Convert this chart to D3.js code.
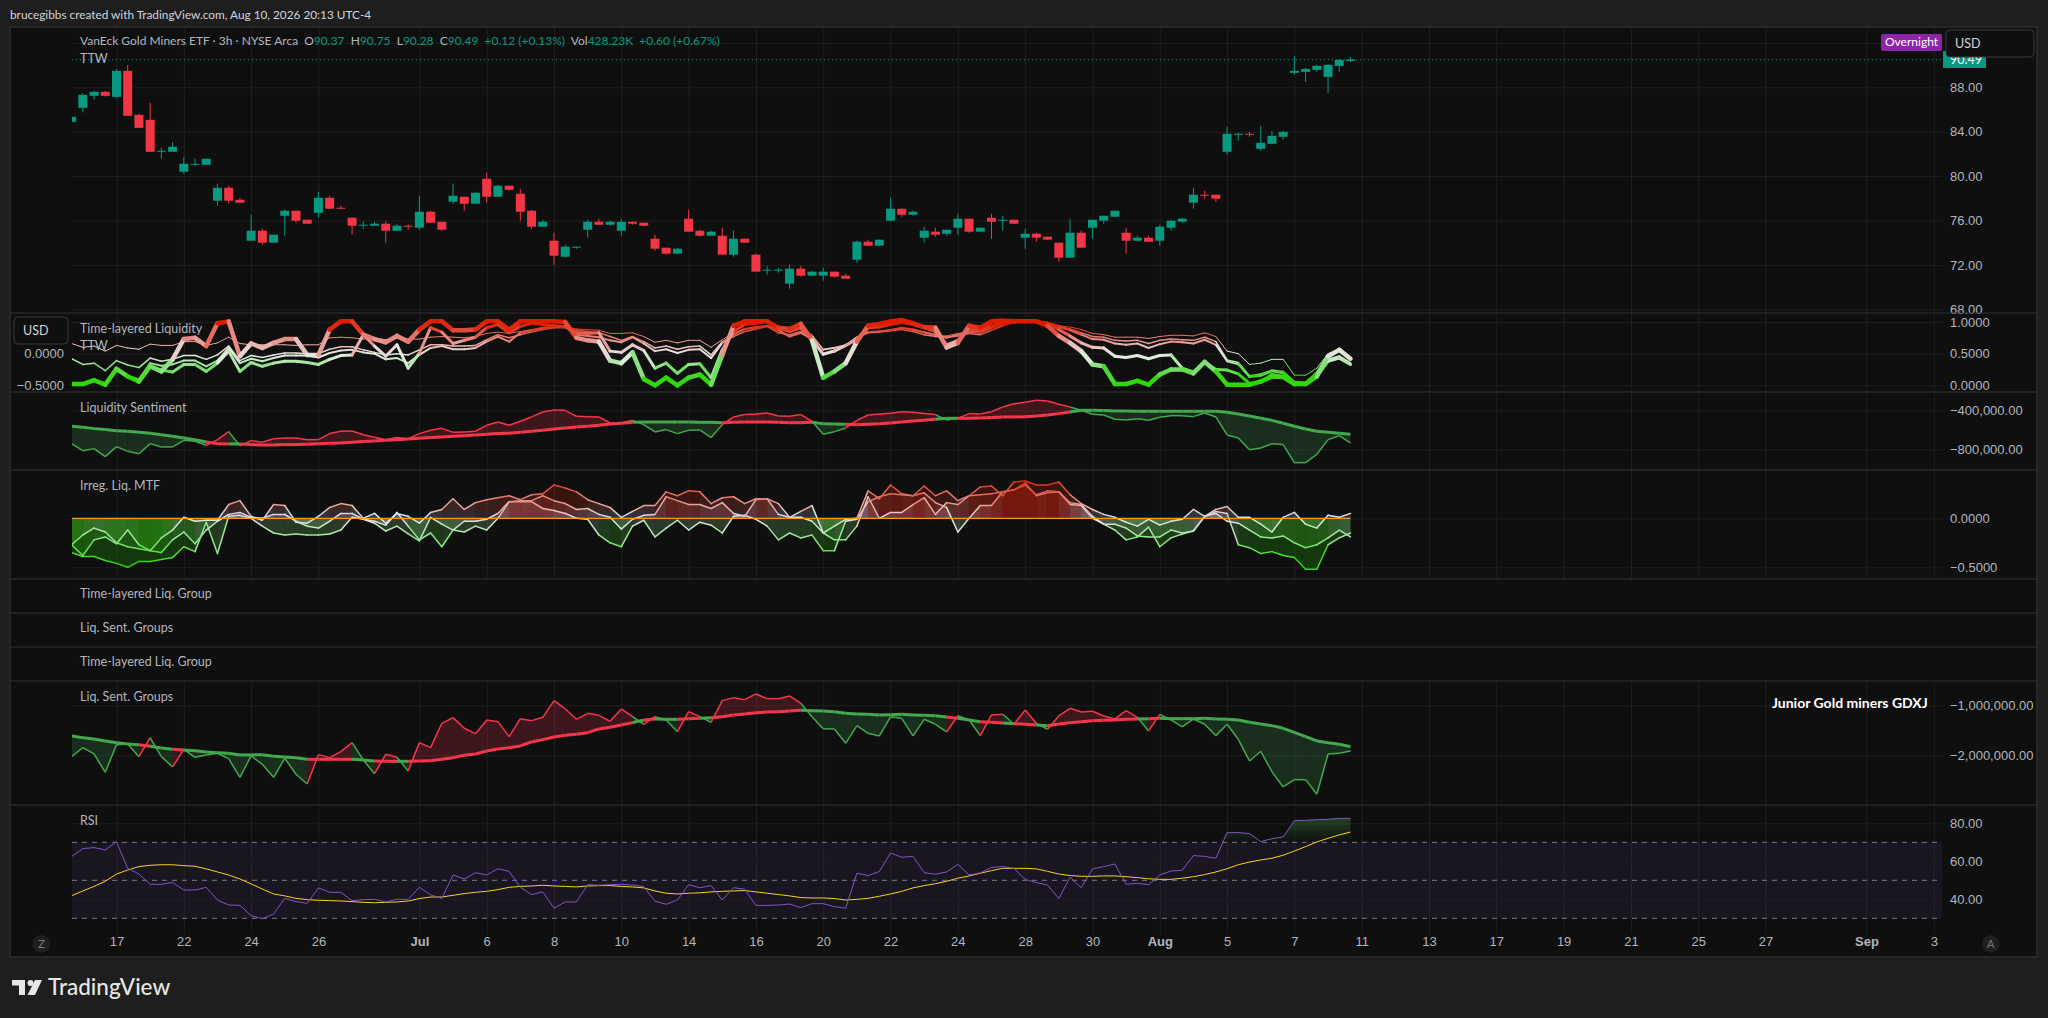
<!DOCTYPE html>
<html>
<head>
<meta charset="utf-8">
<script src="https://cdn.jsdelivr.net/npm/d3@7"></script>
<style>
  html, body { margin: 0; padding: 0; background: #1e1e1e; overflow: hidden; }
  svg { display: block; font-family: "Lato", sans-serif; }
  text { font-size: 12.5px; fill: #b2b5be; }
  .tick line { stroke: #1f1f1f; }
  .domain { display: none; }
  .tick text { font-size: 13px; fill: #b2b5be; }
  .bold { font-weight: 700; fill: #d1d4dc; }
</style>
</head>
<body>
<svg id="chart" width="2048" height="1018"></svg>
<script>
// candles, 3h bars
var opens = [84.89,86.15,87.23,87.59,87.14,89.48,85.52,85.07,82.22,82.19,
  80.39,81.05,81.02,77.78,78.95,77.87,74.18,75.08,74.00,76.43,
  76.88,76.07,76.70,78.05,77.15,76.25,75.56,75.53,75.71,75.08,
  75.53,75.35,76.79,75.89,77.69,78.14,77.51,79.76,78.14,79.13,
  78.41,76.88,75.44,74.18,72.74,73.55,75.17,75.89,75.62,75.08,
  75.89,75.80,74.36,73.55,73.01,76.16,75.08,74.63,74.63,72.92,
  74.36,72.92,71.48,71.48,70.31,71.66,71.03,71.03,71.39,71.03,
  72.47,74.09,73.73,75.98,77.06,76.52,74.45,74.99,74.81,75.35,
  76.16,74.99,76.25,75.98,76.07,74.45,74.81,74.54,74.00,72.65,
  74.90,75.35,75.98,76.34,74.90,74.18,74.45,74.18,75.35,75.89,
  77.60,78.32,78.32,82.19,83.75,83.81,82.46,82.91,83.54,89.30,
  89.39,89.57,88.94,89.93,90.37];
var closes = [85.34,87.32,87.59,87.23,89.48,85.43,84.35,82.19,82.28,82.64,
  81.11,81.11,81.56,78.95,77.78,77.60,75.08,74.00,74.72,76.88,
  75.98,75.71,78.05,77.06,77.06,75.53,75.62,75.71,75.08,75.53,
  75.47,76.79,75.80,75.17,78.23,77.51,78.50,78.14,79.13,78.77,
  76.79,75.44,75.89,72.83,73.64,73.64,75.89,75.62,75.89,75.89,
  75.71,75.53,73.46,73.01,73.46,74.99,74.63,74.99,72.92,74.36,
  74.00,71.39,71.57,71.57,71.66,71.03,71.39,71.39,70.94,70.76,
  74.09,73.73,74.27,77.06,76.52,76.79,75.08,74.72,75.17,76.16,
  74.99,75.35,75.89,76.07,75.71,74.81,74.45,74.27,72.65,74.90,
  73.55,76.07,76.43,76.88,74.18,74.45,74.09,75.44,75.98,76.16,
  78.32,78.26,77.96,83.81,83.81,83.75,83.00,83.63,83.99,89.48,
  89.66,89.93,90.02,90.47,90.49];
var highs = [85.34,87.47,87.71,87.68,89.63,90.02,85.61,86.60,82.55,83.06,
  81.74,81.56,81.56,79.31,79.13,78.05,76.52,75.26,74.72,76.97,
  76.88,76.07,78.59,78.23,77.33,76.25,75.89,75.89,75.98,75.71,
  75.62,78.23,76.88,75.89,79.31,78.14,78.59,80.30,79.22,79.13,
  78.86,76.97,76.07,74.90,73.82,73.64,76.07,76.16,75.98,76.16,
  75.89,75.80,74.72,73.55,73.55,76.97,75.17,75.08,75.35,75.08,
  74.36,73.01,71.93,71.75,72.02,71.93,71.48,71.75,71.39,71.21,
  74.18,74.27,74.27,78.05,77.06,76.88,75.44,75.35,75.17,76.61,
  76.16,75.35,76.61,76.43,76.07,75.26,74.90,74.54,74.00,76.16,
  75.08,76.07,76.43,76.88,75.35,74.63,74.63,75.62,76.07,76.25,
  78.95,78.68,78.32,84.44,83.90,83.99,84.53,84.08,84.08,90.83,
  89.75,90.02,90.11,90.56,90.75];
var lows = [84.80,85.73,86.90,87.17,87.08,85.43,84.35,82.19,81.56,82.19,
  80.21,80.90,81.02,77.33,77.51,77.60,74.18,73.82,74.00,74.63,
  75.80,75.71,76.25,77.06,77.06,74.72,75.26,75.53,74.00,75.08,
  75.17,75.17,75.80,75.08,77.51,76.88,77.51,77.60,78.14,78.68,
  75.98,75.26,75.44,72.02,72.65,73.46,74.45,75.62,75.53,74.63,
  75.62,75.44,73.28,72.92,73.01,74.99,74.54,74.63,72.92,72.74,
  74.00,71.39,71.12,71.30,69.86,70.94,71.03,70.58,70.85,70.76,
  72.20,73.73,73.73,75.98,76.34,76.43,74.00,74.54,74.63,74.72,
  74.90,74.99,74.36,75.08,75.71,73.46,74.09,74.27,72.29,72.65,
  73.55,74.36,75.71,76.34,73.01,74.09,74.09,73.73,75.08,75.80,
  77.06,77.96,77.69,81.92,83.18,83.54,82.28,82.91,83.27,89.12,
  88.49,89.39,87.50,89.39,90.28];

// time-layered liquidity, thinnest to thickest
var ttl1 = [.66,.60,.62,.54,.63,.59,.57,.65,.63,.63,.69,.69,.63,.67,.76,.66,.64,.64,.64,.64,
  .63,.64,.64,.75,.76,.75,.73,.75,.72,.75,.73,.73,.76,.77,.76,.75,.77,.82,.84,.82,
  .85,.88,.91,.94,.93,.89,.88,.87,.82,.82,.83,.77,.68,.71,.67,.71,.71,.60,.72,.83,
  .88,.91,.94,.88,.84,.89,.80,.57,.60,.64,.77,.83,.85,.88,.91,.87,.83,.78,.78,.82,
  .84,.82,.91,.96,1.00,1.00,1.00,1.00,.94,.92,.88,.82,.80,.76,.76,.76,.74,.77,.79,.79,
  .78,.83,.77,.54,.50,.33,.35,.41,.41,.16,.16,.27,.50,.57,.44];
var ttl2 = [.42,.33,.35,.23,.39,.32,.28,.43,.38,.41,.47,.47,.41,.48,.62,.39,.47,.44,.48,.51,
  .51,.50,.50,.57,.61,.61,.56,.52,.48,.50,.48,.56,.64,.64,.62,.62,.63,.72,.80,.75,
  .80,.84,.88,.91,.91,.87,.85,.83,.77,.71,.77,.69,.59,.62,.57,.61,.62,.48,.69,.77,
  .85,.89,.93,.83,.80,.85,.77,.56,.59,.63,.76,.83,.84,.86,.88,.85,.80,.77,.76,.78,
  .82,.80,.87,.94,.99,1.00,1.00,.99,.94,.89,.83,.77,.76,.71,.70,.71,.66,.71,.73,.72,
  .71,.76,.69,.40,.36,.15,.18,.24,.22,.06,.05,.21,.48,.56,.42];
var ttl3 = [.02,.02,.08,.01,.26,.14,.09,.35,.31,.33,.39,.39,.30,.39,.59,.35,.42,.38,.43,.47,
  .47,.47,.44,.51,.55,.56,.52,.50,.41,.43,.35,.48,.59,.62,.57,.57,.59,.69,.77,.69,
  .83,.87,.91,.92,.92,.80,.78,.76,.71,.68,.76,.66,.54,.57,.51,.56,.57,.43,.67,.80,
  .89,.92,.94,.87,.77,.83,.73,.50,.55,.62,.75,.84,.85,.87,.91,.88,.84,.80,.75,.80,
  .85,.85,.91,.97,1.00,1.00,1.00,.98,.92,.87,.80,.73,.72,.66,.64,.66,.59,.65,.69,.68,
  .66,.72,.64,.38,.33,.13,.15,.22,.19,.02,.02,.14,.41,.46,.35];
var ttl4 = [.02,.02,.08,.01,.26,.14,.09,.30,.24,.21,.33,.33,.22,.35,.54,.22,.36,.30,.35,.38,
  .38,.36,.33,.41,.47,.48,.80,.62,.46,.64,.27,.51,.91,.84,.66,.71,.76,.91,.96,.83,
  .93,.98,.96,.94,.93,.83,.82,.83,.54,.52,.64,.55,.27,.35,.19,.33,.34,.12,.56,.85,
  .96,.98,1.01,.91,.85,.91,.72,.49,.54,.63,.72,.91,.92,.96,.99,.96,.91,.85,.64,.71,
  .89,.87,.94,.99,1.01,1.01,1.01,.98,.88,.78,.67,.60,.59,.46,.44,.47,.42,.47,.48,.27,
  .21,.37,.25,.24,.18,.03,.05,.17,.14,.02,.02,.14,.38,.43,.33];
var ttl5 = [.02,.02,.08,.01,.26,.14,.06,.30,.22,.41,.73,.75,.62,.98,1.01,.46,.66,.59,.67,.73,
  .73,.48,.48,.88,1.01,1.01,.80,.73,.68,.78,.69,.88,1.01,1.01,.87,.87,.88,1.01,1.01,.88,
  1.01,1.01,1.01,1.01,1.00,.75,.71,.69,.39,.35,.52,.10,.00,.12,.00,.12,.17,.01,.48,.94,
  1.01,1.01,1.01,.91,.89,.97,.71,.12,.22,.35,.69,.94,.97,1.01,1.03,.98,.92,.91,.60,.67,
  .94,.91,1.01,1.02,1.01,1.01,1.01,.94,.78,.67,.54,.33,.30,.02,.02,.07,.01,.17,.25,.25,
  .19,.37,.22,.01,.01,.01,.06,.14,.13,.02,.02,.14,.46,.56,.42];
var ttlWidths = [1, 1.5, 2, 3, 4.5];

// liquidity sentiment, thousands
var sentFast = [-742,-814,-793,-875,-773,-821,-845,-742,-776,-776,-708,-718,-759,-701,-619,-763,-711,-728,-691,-684,
  -684,-701,-701,-639,-615,-612,-650,-677,-701,-680,-691,-639,-605,-585,-626,-622,-615,-554,-520,-554,
  -513,-468,-417,-397,-400,-462,-465,-468,-530,-530,-503,-547,-622,-598,-639,-605,-602,-680,-547,-468,
  -444,-438,-427,-458,-462,-444,-513,-646,-619,-581,-503,-448,-438,-431,-414,-421,-434,-444,-499,-482,
  -434,-438,-414,-366,-332,-318,-297,-304,-338,-366,-400,-441,-448,-492,-499,-486,-503,-472,-455,-455,
  -465,-427,-468,-653,-684,-804,-786,-742,-752,-937,-937,-851,-701,-660,-735];
var sentSlow = [-564,-574,-588,-598,-609,-615,-626,-636,-650,-667,-684,-701,-725,-742,-745,-745,-752,-756,-756,-752,
  -752,-749,-742,-739,-735,-728,-721,-715,-708,-701,-694,-687,-680,-674,-667,-660,-653,-646,-639,-636,
  -626,-615,-605,-592,-581,-571,-564,-554,-540,-533,-523,-520,-520,-520,-520,-520,-523,-523,-527,-523,
  -520,-520,-520,-523,-527,-527,-523,-537,-540,-544,-547,-544,-537,-530,-520,-509,-503,-492,-482,-482,
  -482,-479,-475,-468,-468,-465,-458,-448,-434,-417,-400,-400,-403,-407,-407,-410,-410,-410,-410,-410,
  -410,-410,-410,-421,-438,-458,-482,-503,-533,-564,-592,-615,-626,-636,-646];

// irregular liquidity MTF
var irreg1 = [-.27,-.17,-.10,-.14,-.25,-.29,-.31,-.33,-.20,-.12,.01,-.03,-.02,-.02,.14,.18,.02,-.02,.14,.13,
  -.04,-.05,.02,.11,.15,.13,.00,.05,-.05,.05,.02,-.05,.06,.09,.20,.09,.16,.19,.21,.23,
  .19,.24,.25,.34,.31,.27,.19,.15,.11,.01,.07,.13,.13,.27,.23,.28,.27,.15,.21,.22,
  .15,.20,.20,.15,.01,.07,.13,-.15,-.08,-.01,.00,.28,.20,.34,.25,.23,.33,.23,.28,.18,
  .23,.32,.33,.23,.37,.38,.34,.34,.37,.24,.15,.09,.04,.01,-.04,-.08,-.01,-.07,-.03,-.01,
  .09,.02,.09,.12,.01,.01,-.06,-.14,.01,.06,-.06,-.10,.03,.01,.05];
var irreg2 = [-.27,-.38,-.22,-.19,-.26,-.12,-.27,-.33,-.35,-.22,-.14,-.26,-.12,-.03,.04,.06,.01,.00,.04,.04,
  -.03,-.08,-.10,-.03,.05,.05,-.01,-.03,-.07,.06,-.08,-.22,-.15,-.29,-.12,-.03,-.03,-.01,.05,.17,
  .18,.18,.23,.18,.15,.09,.10,.04,.01,-.11,-.01,.03,.04,.22,.18,.14,.14,.10,.16,.05,
  .02,.19,.20,.04,.01,.01,-.03,-.15,-.22,-.22,-.08,.22,.00,.06,.06,.14,.21,.04,.16,.14,
  .23,.24,.25,.27,.29,.34,.24,.28,.27,.16,.14,.02,-.06,-.06,-.10,-.18,-.19,-.19,-.12,-.15,
  -.13,.02,.05,-.03,-.05,-.12,-.19,-.20,-.18,-.25,-.30,-.27,-.20,-.12,-.19];
var irreg3 = [-.35,-.39,-.39,-.43,-.46,-.50,-.44,-.44,-.42,-.40,-.29,-.34,-.04,-.36,.02,.03,.00,-.08,-.15,-.17,
  -.16,-.17,-.17,-.16,-.12,.01,-.01,-.05,-.13,-.08,-.16,-.23,.01,-.06,-.12,-.14,-.08,-.12,.00,.17,
  .17,.17,.10,.08,.05,.00,-.01,-.17,-.25,-.29,-.08,-.02,-.19,-.10,-.02,-.12,-.04,-.07,-.15,.02,
  .03,-.01,-.08,-.22,-.15,-.20,-.17,-.33,-.33,-.03,-.01,.17,.22,.25,.24,.23,.26,.16,.11,-.14,
  .00,.13,.13,.27,.29,.36,.23,.26,.27,.14,.13,.00,-.06,-.12,-.22,-.19,-.09,-.29,-.20,-.16,
  -.13,.02,.07,.05,-.27,-.30,-.36,-.34,-.38,-.40,-.52,-.52,-.27,-.20,-.15];

// liq. sent. groups, thousands
var groupFast = [-2027,-1847,-1973,-2340,-1787,-1773,-2027,-1647,-2027,-2233,-1880,-2040,-1993,-1960,-2067,-2440,-2013,-2180,-2440,-2060,
  -2380,-2573,-1987,-2047,-1927,-1747,-2093,-2367,-1980,-2040,-2313,-1747,-1847,-1360,-1247,-1460,-1567,-1293,-1327,-1627,
  -1267,-1307,-1240,-907,-1073,-1280,-1160,-1200,-1320,-1073,-1227,-1380,-1227,-1293,-1527,-1127,-1227,-1340,-907,-847,
  -887,-773,-867,-867,-813,-960,-1227,-1467,-1473,-1760,-1407,-1560,-1613,-1233,-1260,-1613,-1280,-1380,-1533,-1207,
  -1293,-1607,-1193,-1180,-1380,-1093,-1360,-1480,-1213,-1060,-1133,-1120,-1213,-1273,-1107,-1240,-1513,-1180,-1293,-1433,
  -1273,-1380,-1607,-1380,-1680,-2113,-1920,-2327,-2633,-2487,-2487,-2780,-1973,-1960,-1913];
var groupSlow = [-1613,-1647,-1673,-1713,-1747,-1773,-1787,-1820,-1853,-1880,-1893,-1907,-1933,-1947,-1960,-1993,-1993,-1987,-2020,-2033,
  -2047,-2080,-2080,-2080,-2080,-2080,-2093,-2113,-2120,-2120,-2120,-2113,-2107,-2080,-2047,-2000,-1973,-1913,-1873,-1847,
  -1813,-1733,-1687,-1633,-1600,-1580,-1547,-1473,-1440,-1393,-1347,-1293,-1273,-1280,-1280,-1267,-1260,-1247,-1227,-1193,
  -1173,-1147,-1133,-1127,-1113,-1100,-1107,-1113,-1127,-1160,-1173,-1180,-1193,-1187,-1180,-1193,-1200,-1207,-1233,-1260,
  -1293,-1327,-1340,-1353,-1367,-1380,-1393,-1407,-1373,-1347,-1327,-1307,-1300,-1293,-1280,-1273,-1267,-1260,-1267,-1267,
  -1267,-1260,-1273,-1280,-1293,-1340,-1373,-1407,-1460,-1540,-1627,-1713,-1747,-1780,-1827];

// rsi and its average
var rsi = [62.5,66.7,67.2,66,70.2,56.3,53.3,47.9,47.9,48.9,44.9,44.9,46.3,39.6,37,36.8,31.4,29.8,32.3,40.5,
  38.8,37.9,46,43.7,43.7,39.3,39.8,40,38.6,40,40,46.3,42.3,40.5,52.8,50.7,54,52.8,56.1,54.7,
  46.3,42.5,43.9,35.3,38.6,38.6,47.7,47.4,47.7,47.9,47.5,46.7,39,37.4,39.6,47.7,46.1,47.2,39.6,46.1,
  45.3,36.8,36.8,37,37.5,35.6,37.7,37.7,36.1,35.3,53.7,52.5,54.6,64.4,62.1,62.6,54,53.2,54.4,58.4,
  52.8,53.9,56.8,57.2,56.3,50.5,48.8,47.5,40.4,51.6,46.1,56,57.2,58.6,47.9,48.4,47.7,52.8,54.9,55.3,
  63,62.6,61.6,75.1,75.1,74.6,70.4,71.9,72.8,81.4,81.6,81.9,82.1,82.6,82.6];
var rsiMa = [41.9,44.4,46.8,49.5,53.3,55.4,57.2,57.9,58.2,58.2,57.7,57.4,56,54.4,52.8,50.7,48.1,45.4,42.8,41.8,
  40.5,39.8,39.5,39.3,39.1,38.8,38.4,38.2,38.4,38.6,39.1,40.4,41.2,41.2,42.1,43,43.7,44.2,45.1,46.3,
  46.8,47,47.4,47,46.8,46.5,47,47.2,47.2,46.8,46.5,46,44.4,43.2,42.8,43.2,43.4,43.9,44.2,44.4,
  44.6,43.9,43.2,42.5,41.8,40.9,40.7,40.7,40.4,39.6,40,40.5,41.6,42.8,44.2,46,47.2,48.2,49.5,51.1,
  52.3,53.7,55.1,56.3,56.3,56.3,56,54.7,53.3,52.5,52.1,52.1,52.3,52.3,51.9,51.4,50.8,50.5,50.5,51.1,
  51.9,53,54.4,56.1,58.2,59.6,60.7,61.6,63.2,65.4,67.7,70.2,72.1,73.9,75.4];

var timeTickBars = [4,10,16,22,31,37,43,49,55,61,67,73,79,85,91,97,103,109,115,121,127,133,139,145,151,160,166];
var timeTickLabels = ['17','22','24','26','Jul','6','8','10','14','16','20','22','24','28','30','Aug','5','7','11','13','17','19','21','25','27','Sep','3'];
var priceTicks = [92,88,84,80,76,72,68];
var legendParts = [['VanEck Gold Miners ETF · 3h · NYSE Arca  ',0],['O',0],['90.37  ',1],['H',0],['90.75  ',1],['L',0],['90.28  ',1],['C',0],['90.49  ',1],['+0.12 (+0.13%)  ',1],['Vol',0],['428.23K  ',1],['+0.60 (+0.67%)',1]];

var upColor = '#089981', downColor = '#f23645',
    sentGreen = '#43a84e', sentRed = '#f7364c',
    panelL = 10, panelR = 2037, panelT = 27, panelB = 957,
    plotL = 72, plotR = 1942;

var svg = d3.select('#chart');
svg.append('rect').attr('width', 2048).attr('height', 1018).attr('fill', '#1e1e1e');
svg.append('rect').attr('x', panelL).attr('y', panelT).attr('width', panelR - panelL).attr('height', panelB - panelT)
    .attr('fill', '#0f0f0f').attr('stroke', '#2e2e2e').attr('stroke-width', 1.5);

var x = d3.scaleLinear().domain([4, 115]).range([116.5, 1361.7]);
var yPrice = d3.scaleLinear().domain([88, 68]).range([87.3, 309.3]);
var yTtl = d3.scaleLinear().domain([1, 0]).range([322, 385.3]);
var yTtlLeft = d3.scaleLinear().domain([0, -0.5]).range([353.7, 385.3]);
var ySent = d3.scaleLinear().domain([-400, -800]).range([410.3, 449.3]);
var yIrreg = d3.scaleLinear().domain([0, -0.5]).range([518.3, 567.3]);
var yGroup = d3.scaleLinear().domain([-1000, -2000]).range([705.3, 755.3]);
var yRsi = d3.scaleLinear().domain([80, 30]).range([823.3, 918.3]);

var ttlColor = d3.scaleLinear().domain([0.1, 0.3, 0.45, 0.55, 0.75, 0.97])
    .range(['#2fd80a', '#86e07e', '#dfeedd', '#e8d8d5', '#e8827a', '#e01b00']).clamp(true);
var irregColor = d3.scaleLinear().domain([-0.45, -0.2, 0, 0.2, 0.38]).range(['#2fd80a', '#8fe88a', '#e6e6e6', '#e8827a', '#e0250a']).clamp(true);

var defs = svg.append('defs');
var panes = [[27, 313], [313, 392], [392, 470], [470, 579], [681, 805], [805, 930]];
panes.forEach(function (p, i) {
    defs.append('clipPath').attr('id', 'clip' + i).append('rect')
        .attr('x', plotL).attr('y', p[0]).attr('width', plotR - plotL).attr('height', p[1] - p[0]);
});

// vertical grid, drawn for each pane that has any
panes.forEach(function (p) {
    svg.append('g').attr('transform', 'translate(0,' + p[1] + ')')
        .call(d3.axisTop(x).tickValues(timeTickBars).tickSize(p[1] - p[0]).tickFormat(''));
});

function yAxis(scale, gridTicks, labelTicks, fmt) {
    svg.append('g').attr('transform', 'translate(' + plotR + ',0)')
        .call(d3.axisLeft(scale).tickValues(gridTicks).tickSize(plotR - plotL).tickFormat(''));
    svg.append('g').attr('class', 'labels').attr('transform', 'translate(' + plotR + ',0)')
        .call(d3.axisRight(scale).tickValues(labelTicks).tickSize(0).tickPadding(8).tickFormat(fmt));
}
var fmt2 = d3.format('.2f'), fmt4 = d3.format('.4f'),
    fmtK = function (d) { return d3.format(',.2f')(d * 1000); };

yAxis(yPrice, priceTicks, priceTicks.slice(1), fmt2);
yAxis(yTtl, [1, 0.5, 0], [1, 0.5, 0], fmt4);
yAxis(ySent, [-400, -800], [-400, -800], fmtK);
yAxis(yIrreg, [0, -0.5], [0, -0.5], fmt4);
yAxis(yGroup, [-1000, -2000], [-1000, -2000], fmtK);

// separators
[313, 392, 470, 579, 613, 647, 681, 805].forEach(function (v) {
    svg.append('line').attr('x1', panelL).attr('x2', panelR).attr('y1', v).attr('y2', v)
        .attr('stroke', '#333').attr('stroke-width', 1);
});

// candles
var candles = svg.append('g').attr('clip-path', 'url(#clip0)').selectAll('g')
    .data(opens.map(function (o, i) { return { i: i, o: o, h: highs[i], l: lows[i], c: closes[i] }; }))
    .enter().append('g');
candles.append('line')
    .attr('x1', function (d) { return x(d.i); }).attr('x2', function (d) { return x(d.i); })
    .attr('y1', function (d) { return yPrice(d.h); }).attr('y2', function (d) { return yPrice(d.l); })
    .attr('stroke', function (d) { return d.c >= d.o ? upColor : downColor; });
candles.append('rect')
    .attr('x', function (d) { return x(d.i) - 4.5; }).attr('width', 9)
    .attr('y', function (d) { return yPrice(Math.max(d.o, d.c)); })
    .attr('height', function (d) { return Math.max(1, Math.abs(yPrice(d.o) - yPrice(d.c))); })
    .attr('fill', function (d) { return d.c >= d.o ? upColor : downColor; });

// last price line
svg.append('line').attr('x1', plotL).attr('x2', plotR)
    .attr('y1', yPrice(90.49)).attr('y2', yPrice(90.49))
    .attr('stroke', upColor).attr('stroke-dasharray', '1 3');

// helper: one short line per bar pair so each can take its own colour
function segments(values, scale, width, colorScale, target) {
    var line = d3.line().x(function (d) { return x(d.i); }).y(function (d) { return scale(d.v); });
    target.selectAll(null)
        .data(d3.pairs(values.map(function (v, i) { return { i: i, v: v }; })))
        .enter().append('path')
        .attr('d', line)
        .attr('fill', 'none')
        .attr('stroke-width', width)
        .attr('stroke-linecap', 'round')
        .attr('stroke', function (d) { return colorScale((d[0].v + d[1].v) / 2); });
}

var ttlG = svg.append('g').attr('clip-path', 'url(#clip1)');
[ttl1, ttl2, ttl3, ttl4, ttl5].forEach(function (s, k) {
    segments(s, yTtl, ttlWidths[k], ttlColor, ttlG);
});

// sentiment panes: fill between the two lines, colour follows which one leads
function sentiment(fast, slow, scale, clip) {
    var g = svg.append('g').attr('clip-path', clip);
    var pts = fast.map(function (v, i) { return { i: i, f: v, s: slow[i] }; });
    var pairs = d3.pairs(pts);
    var state = function (d) { return d[1].f > d[1].s ? sentRed : sentGreen; };
    var area = d3.area().x(function (d) { return x(d.i); })
        .y0(function (d) { return scale(d.s); }).y1(function (d) { return scale(d.f); });
    g.selectAll(null).data(pairs).enter().append('path')
        .attr('d', area).attr('fill', state).attr('fill-opacity', 0.2);
    var lineF = d3.line().x(function (d) { return x(d.i); }).y(function (d) { return scale(d.f); });
    var lineS = d3.line().x(function (d) { return x(d.i); }).y(function (d) { return scale(d.s); });
    g.selectAll(null).data(pairs).enter().append('path')
        .attr('d', lineF).attr('fill', 'none').attr('stroke', state).attr('stroke-width', 1.5);
    g.selectAll(null).data(pairs).enter().append('path')
        .attr('d', lineS).attr('fill', 'none').attr('stroke', state).attr('stroke-width', 3);
}
sentiment(sentFast, sentSlow, ySent, 'url(#clip2)');
sentiment(groupFast, groupSlow, yGroup, 'url(#clip4)');

// irregular liquidity: each line filled down to zero
var irregG = svg.append('g').attr('clip-path', 'url(#clip3)');
[irreg1, irreg2, irreg3].forEach(function (s) {
    var area = d3.area().x(function (d) { return x(d.i); })
        .y0(yIrreg(0)).y1(function (d) { return yIrreg(d.v); });
    irregG.selectAll(null)
        .data(d3.pairs(s.map(function (v, i) { return { i: i, v: v }; })))
        .enter().append('path')
        .attr('d', area)
        .attr('fill', function (d) { return irregColor((d[0].v + d[1].v) / 2 * 1.4); })
        .attr('fill-opacity', 0.2);
});
[irreg3, irreg2, irreg1].forEach(function (s) {
    segments(s, yIrreg, 1.5, irregColor, irregG);
});
irregG.append('line').attr('x1', x(0)).attr('x2', x(114))
    .attr('y1', yIrreg(0)).attr('y2', yIrreg(0)).attr('stroke', '#f59d0c').attr('stroke-width', 1.3);

// rsi
svg.append('rect').attr('x', plotL).attr('width', plotR - plotL)
    .attr('y', yRsi(70)).attr('height', yRsi(30) - yRsi(70)).attr('fill', '#7e57c2').attr('fill-opacity', 0.1);
yAxis(yRsi, [80, 60, 40], [80, 60, 40], fmt2);
[70, 50, 30].forEach(function (v) {
    svg.append('line').attr('x1', plotL).attr('x2', plotR).attr('y1', yRsi(v)).attr('y2', yRsi(v))
        .attr('stroke', '#787b86').attr('stroke-dasharray', '5 5');
});
var grad = defs.append('linearGradient').attr('id', 'obFill').attr('gradientUnits', 'userSpaceOnUse')
    .attr('x1', 0).attr('x2', 0).attr('y1', yRsi(83)).attr('y2', yRsi(70));
grad.append('stop').attr('offset', 0).attr('stop-color', '#4caf50').attr('stop-opacity', 0.32);
grad.append('stop').attr('offset', 1).attr('stop-color', '#4caf50').attr('stop-opacity', 0);
var rsiPts = rsi.map(function (v, i) { return { i: i, v: v, m: rsiMa[i] }; });
var rsiG = svg.append('g').attr('clip-path', 'url(#clip5)');
rsiG.append('path').datum(rsiPts)
    .attr('d', d3.area().x(function (d) { return x(d.i); }).y0(yRsi(70))
        .y1(function (d) { return yRsi(Math.max(d.v, 70)); }))
    .attr('fill', 'url(#obFill)');
rsiG.append('path').datum(rsiPts)
    .attr('d', d3.line().x(function (d) { return x(d.i); }).y(function (d) { return yRsi(d.m); }))
    .attr('fill', 'none').attr('stroke', '#f7d21e').attr('stroke-width', 1);
rsiG.append('path').datum(rsiPts)
    .attr('d', d3.line().x(function (d) { return x(d.i); }).y(function (d) { return yRsi(d.v); }))
    .attr('fill', 'none').attr('stroke', '#7e57c2').attr('stroke-width', 1);

// time axis
var timeAxis = svg.append('g').attr('transform', 'translate(0,930)')
    .call(d3.axisBottom(x).tickValues(timeTickBars).tickSize(4).tickPadding(3)
        .tickFormat(function (d, i) { return timeTickLabels[i]; }));
timeAxis.selectAll('line').attr('stroke', '#333');
timeAxis.selectAll('text').attr('class', function (d, i) {
    return /[A-Z]/.test(timeTickLabels[i]) ? 'bold' : null;
});

// left axis of the first indicator pane
svg.append('g').attr('transform', 'translate(64,0)')
    .call(d3.axisLeft(yTtlLeft).tickValues([0, -0.5]).tickSize(0).tickPadding(0).tickFormat(fmt4));

function label(tx, ty, str, cls, color, size) {
    var t = svg.append('text').attr('x', tx).attr('y', ty).attr('dy', '0.35em').text(str);
    if (cls) { t.attr('class', cls); }
    if (color) { t.style('fill', color); }
    if (size) { t.style('font-size', size + 'px'); }
    return t;
}

label(10, 15, 'brucegibbs created with TradingView.com, Aug 10, 2026 20:13 UTC-4', null, '#d1d4dc', 11.8);
var legend = label(80, 41, '', null, null, 12);
legendParts.forEach(function (p) {
    legend.append('tspan').attr('xml:space', 'preserve').style('white-space', 'pre')
        .style('fill', p[1] ? upColor : '#b2b5be').text(p[0]);
});
label(80, 59, 'TTW');
label(80, 329, 'Time-layered Liquidity');
label(80, 346, 'TTW');
label(80, 408, 'Liquidity Sentiment');
label(80, 486, 'Irreg. Liq. MTF');
label(80, 594, 'Time-layered Liq. Group');
label(80, 628, 'Liq. Sent. Groups');
label(80, 662, 'Time-layered Liq. Group');
label(80, 697, 'Liq. Sent. Groups');
label(80, 821, 'RSI');
label(1772, 703.5, 'Junior Gold miners GDXJ', null, '#ffffff', 14).style('font-weight', 700);

// last price tag, partly under the currency box
svg.append('rect').attr('x', 1943).attr('y', 51).attr('width', 43).attr('height', 17).attr('fill', upColor);
label(1950, yPrice(90.49), '90.49', null, '#ffffff');
svg.append('rect').attr('x', 1881).attr('y', 34).attr('width', 61).attr('height', 17).attr('rx', 2).attr('fill', '#8e24aa');
label(1885, 42, 'Overnight', null, '#ffffff', 12);
[[1946, 30, 88], [14, 317, 54]].forEach(function (b) {
    svg.append('rect').attr('x', b[0]).attr('y', b[1]).attr('width', b[2]).attr('height', 27).attr('rx', 4)
        .attr('fill', '#0f0f0f').attr('stroke', '#3a3a3a');
    label(b[0] + 9, b[1] + 14, 'USD', null, '#d1d4dc');
});

// scale buttons
[[41.5, 'Z'], [1990.7, 'A']].forEach(function (b) {
    svg.append('circle').attr('cx', b[0]).attr('cy', 944).attr('r', 9).attr('fill', '#1e1e1e');
    label(b[0], 944, b[1], null, '#787b86', 11).attr('text-anchor', 'middle');
});

// footer
var logo = svg.append('g').attr('fill', '#e6e6e6');
logo.append('path').attr('d', 'M12 980H25V995H19V985.5H12Z');
logo.append('circle').attr('cx', 30.5).attr('cy', 983).attr('r', 3);
logo.append('path').attr('d', 'M35 980H42L35 995H27.5Z');
label(48, 987.5, 'TradingView', null, '#e6e6e6', 22.5).style('font-weight', 500);
</script>
</body>
</html>
